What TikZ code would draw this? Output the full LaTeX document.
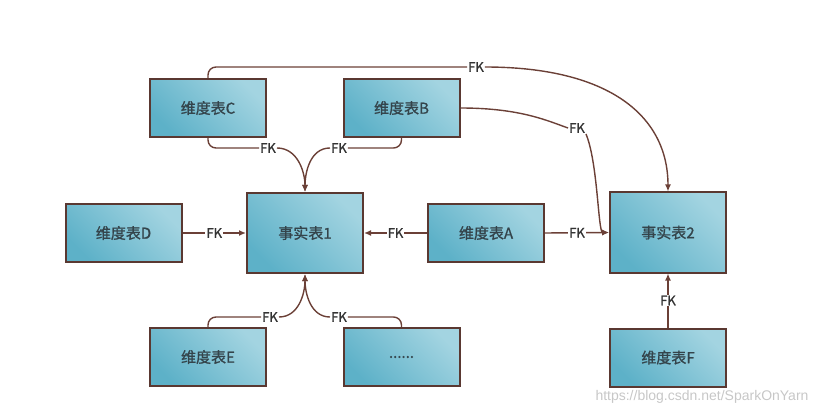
\documentclass[tikz,border=0pt]{standalone}
\usepackage{fontspec}
\setmainfont{Noto Sans CJK SC}
\newfontfamily\boxfont[FakeBold=1.2]{Noto Sans CJK SC}
\newfontfamily\fkfont[FakeBold=0.8]{Noto Sans CJK SC}
\newfontfamily\wmfont{Liberation Sans}
\usetikzlibrary{arrows.meta}
\definecolor{edgec}{HTML}{6B4037}
\definecolor{borderc}{HTML}{5A3831}
\definecolor{boxlight}{HTML}{A3D4E1}
\definecolor{boxdark}{HTML}{5DB1C8}
\definecolor{txtc}{HTML}{34444B}
\begin{document}
\begin{tikzpicture}[x=1pt,y=-1pt,
 tbl/.style={draw=borderc, line width=2pt, top color=boxlight, bottom color=boxdark, shading angle=-45, minimum width=116pt, minimum height=58pt, text=txtc, font=\boxfont\fontsize{15}{17}\selectfont, inner sep=0pt},
 fact/.style={tbl, minimum height=80pt},
 fk/.style={fill=white, text=black!80, font=\fkfont\fontsize{13}{14}\selectfont, inner sep=1pt},
 link/.style={draw=edgec, line width=1.4pt},
 arr/.style={link, -{Latex[length=7pt,width=6pt]}},
]
\useasboundingbox (0,0) rectangle (819,414);
\node[tbl] (C) at (208,108) {维度表C};
\node[tbl] (B) at (401.5,108) {维度表B};
\node[tbl] (D) at (123.5,233) {维度表D};
\node[fact] (F1) at (305,233) {事实表1};
\node[tbl] (A) at (486,233) {维度表A};
\node[fact] (F2) at (668,232.5) {事实表2};
\node[tbl] (E) at (208,357) {维度表E};
\node[tbl] (X) at (401.5,357) {......};
\node[tbl] (Fd) at (668,357.5) {维度表F};

% C and B to fact 1
\node[fk] (fkC) at (268,148) {FK};
\draw[link, rounded corners=8pt] (C.south) |- (fkC.west);
\draw[arr] (fkC.east) to[out=0,in=90] (F1.north);
\node[fk] (fkB) at (339,148) {FK};
\draw[link, rounded corners=8pt] (B.south) |- (fkB.east);
\draw[arr] (fkB.west) to[out=180,in=90] (F1.north);

% E and dots to fact 1
\node[fk] (fkE) at (270,317) {FK};
\draw[link, rounded corners=8pt] (E.north) |- (fkE.west);
\draw[arr] (fkE.east) to[out=0,in=-90] (F1.south);
\node[fk] (fkX) at (339,317) {FK};
\draw[link, rounded corners=8pt] (X.north) |- (fkX.east);
\draw[arr] (fkX.west) to[out=180,in=-90] (F1.south);

% horizontal links
\draw[arr] (D.east) -- node[fk] (fkD) {FK} (F1.west);
\draw[arr] (A.west) -- node[fk] (fkA1) {FK} (F1.east);
\draw[arr] (A.east) -- node[fk] (fkA2) {FK} (F2.west);
\draw[arr] (Fd.north) -- node[fk] (fkF) {FK} (F2.south);

% C top to fact 2
\node[fk] (fkT) at (476,67) {FK};
\draw[link, rounded corners=8pt] (C.north) |- (fkT.west);
\draw[arr] (fkT.east) .. controls +(125,0) and +(0,-75) .. (F2.north);

% B right to fact 2
\node[fk] (fkBB) at (577,128) {FK};
\draw[link] (B.east) .. controls +(60,0) and +(-20,-7) .. (fkBB.west);
\draw[arr] (fkBB.south east) .. controls +(12,29) and +(-11,0) .. (F2.west);

\node[font=\wmfont\fontsize{14}{16}\selectfont, text=black!22, anchor=east] (wm) at (812,397) {https://blog.csdn.net/SparkOnYarn};
\end{tikzpicture}
\end{document}
